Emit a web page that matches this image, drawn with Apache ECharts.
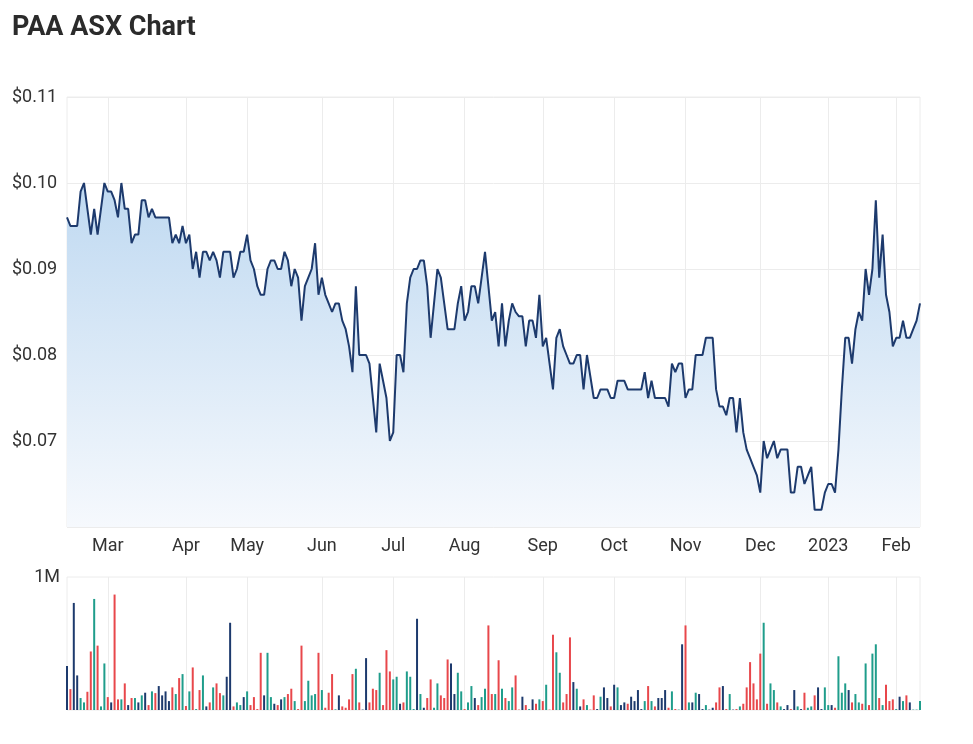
<!DOCTYPE html>
<html>
<head>
<meta charset="utf-8">
<title>PAA ASX Chart</title>
<script src="https://cdn.jsdelivr.net/npm/echarts@6/dist/echarts.min.js"></script>
<style>
  html, body { margin: 0; padding: 0; background: #fff; }
  #chart { width: 973px; height: 744px; }
</style>
</head>
<body>
<div id="chart"></div>
<script>
// tick labels for the month axis
const monthNames = ['Jan', 'Feb', 'Mar', 'Apr', 'May', 'Jun', 'Jul', 'Aug', 'Sep', 'Oct', 'Nov', 'Dec'];
// ASX closed days inside the window
const holidays = ['2022-04-15', '2022-04-18', '2022-04-25', '2022-06-13', '2022-09-22',
    '2022-12-26', '2022-12-27', '2023-01-02', '2023-01-26'];
const firstDay = '2022-02-11';
const lastDay = '2023-02-10';

// daily close, $
const closePrices = [
    0.096, 0.095, 0.095, 0.095, 0.099, 0.100, 0.097, 0.094, 0.097, 0.094,
    0.097, 0.100, 0.099, 0.099, 0.098, 0.096, 0.100, 0.097, 0.097, 0.093,
    0.094, 0.094, 0.098, 0.098, 0.096, 0.097, 0.096, 0.096, 0.096, 0.096,
    0.096, 0.093, 0.094, 0.093, 0.095, 0.093, 0.094, 0.090, 0.092, 0.089,
    0.092, 0.092, 0.091, 0.092, 0.091, 0.089, 0.092, 0.092, 0.092, 0.089,
    0.090, 0.092, 0.092, 0.094, 0.091, 0.090, 0.088, 0.087, 0.087, 0.090,
    0.091, 0.091, 0.090, 0.090, 0.092, 0.091, 0.088, 0.090, 0.089, 0.084,
    0.088, 0.089, 0.090, 0.093, 0.087, 0.089, 0.087, 0.086, 0.085, 0.086,
    0.086, 0.084, 0.083, 0.081, 0.078, 0.088, 0.080, 0.080, 0.080, 0.079,
    0.075, 0.071, 0.079, 0.077, 0.075, 0.070, 0.071, 0.080, 0.080, 0.078,
    0.086, 0.089, 0.090, 0.090, 0.091, 0.091, 0.088, 0.082, 0.086, 0.090,
    0.089, 0.086, 0.083, 0.083, 0.083, 0.086, 0.088, 0.084, 0.085, 0.088,
    0.088, 0.086, 0.089, 0.092, 0.088, 0.084, 0.085, 0.081, 0.086, 0.081,
    0.084, 0.086, 0.085, 0.0845, 0.0845, 0.081, 0.084, 0.084, 0.082, 0.087,
    0.081, 0.082, 0.079, 0.076, 0.082, 0.083, 0.081, 0.080, 0.079, 0.079,
    0.080, 0.080, 0.076, 0.080, 0.0775, 0.075, 0.075, 0.076, 0.076, 0.076,
    0.075, 0.075, 0.077, 0.077, 0.077, 0.076, 0.076, 0.076, 0.076, 0.076,
    0.078, 0.075, 0.077, 0.075, 0.075, 0.075, 0.075, 0.074, 0.079, 0.078,
    0.079, 0.079, 0.075, 0.076, 0.076, 0.080, 0.080, 0.080, 0.082, 0.082,
    0.082, 0.076, 0.074, 0.074, 0.073, 0.075, 0.075, 0.071, 0.075, 0.071,
    0.069, 0.068, 0.067, 0.066, 0.064, 0.070, 0.068, 0.069, 0.070, 0.068,
    0.069, 0.069, 0.069, 0.064, 0.064, 0.067, 0.067, 0.065, 0.066, 0.067,
    0.062, 0.062, 0.062, 0.064, 0.065, 0.065, 0.064, 0.069, 0.076, 0.082,
    0.082, 0.079, 0.083, 0.085, 0.084, 0.090, 0.087, 0.090, 0.098, 0.089,
    0.094, 0.087, 0.085, 0.081, 0.082, 0.082, 0.084, 0.082, 0.082, 0.083,
    0.084, 0.086
];

// daily volume, millions of shares
const volumesM = [
    0.33, 0.157, 0.805, 0.26, 0.09, 0.057, 0.137, 0.44, 0.835, 0.484,
    0.027, 0.35, 0.097, 0.057, 0.868, 0.08, 0.08, 0.2, 0.037, 0.09,
    0.09, 0.057, 0.11, 0.13, 0.037, 0.14, 0.127, 0.18, 0.11, 0.14,
    0.067, 0.17, 0.12, 0.24, 0.27, 0.03, 0.14, 0.32, 0.007, 0.15,
    0.26, 0.027, 0.057, 0.17, 0.2, 0.127, 0.11, 0.25, 0.656, 0.027,
    0.057, 0.037, 0.097, 0.14, 0.037, 0.097, 0.007, 0.43, 0.11, 0.43,
    0.097, 0.047, 0.037, 0.08, 0.097, 0.12, 0.16, 0.067, 0.007, 0.484,
    0.067, 0.22, 0.11, 0.12, 0.43, 0.15, 0.017, 0.13, 0.27, 0.005,
    0.11, 0.027, 0.017, 0.08, 0.27, 0.31, 0.057, 0.003, 0.39, 0.057,
    0.16, 0.15, 0.28, 0.037, 0.45, 0.29, 0.23, 0.25, 0.047, 0.057,
    0.29, 0.25, 0.007, 0.686, 0.12, 0.017, 0.09, 0.23, 0.017, 0.2,
    0.11, 0.09, 0.38, 0.35, 0.12, 0.28, 0.14, 0.007, 0.057, 0.18,
    0.09, 0.037, 0.097, 0.16, 0.636, 0.12, 0.12, 0.374, 0.16, 0.09,
    0.067, 0.17, 0.26, 0.003, 0.1, 0.037, 0.007, 0.08, 0.047, 0.08,
    0.067, 0.19, 0.003, 0.566, 0.434, 0.28, 0.057, 0.12, 0.546, 0.21,
    0.16, 0.027, 0.08, 0.037, 0.003, 0.11, 0.007, 0.1, 0.17, 0.09,
    0.027, 0.19, 0.17, 0.037, 0.057, 0.047, 0.1, 0.067, 0.15, 0.007,
    0.067, 0.18, 0.067, 0.027, 0.09, 0.09, 0.15, 0.017, 0.14, 0.007,
    0.003, 0.494, 0.636, 0.057, 0.057, 0.13, 0.12, 0.007, 0.037, 0.003,
    0.017, 0.057, 0.17, 0.18, 0.007, 0.12, 0.003, 0.007, 0.027, 0.047,
    0.17, 0.36, 0.2, 0.08, 0.424, 0.656, 0.047, 0.2, 0.15, 0.057,
    0.027, 0.007, 0.037, 0.007, 0.15, 0.027, 0.007, 0.13, 0.017, 0.027,
    0.11, 0.17, 0.007, 0.17, 0.037, 0.037, 0.017, 0.404, 0.13, 0.2,
    0.15, 0.057, 0.12, 0.057, 0.047, 0.35, 0.037, 0.424, 0.494, 0.09,
    0.037, 0.19, 0.067, 0.08, 0.007, 0.1, 0.067, 0.11, 0.057, 0.003,
    0.003, 0.067
];

const UP = '#1f9d8b';
const DOWN = '#e8474b';
const FLAT = '#1d3a6d';
const GRID_LINE = '#ececec';
const TEXT = '#333333';

function tradingDays(start, end, skip) {
    const out = [];
    const d = new Date(start + 'T00:00:00Z');
    const last = new Date(end + 'T00:00:00Z');
    while (d <= last) {
        const wd = d.getUTCDay();
        const s = d.toISOString().slice(0, 10);
        if (wd !== 0 && wd !== 6 && skip.indexOf(s) < 0) out.push(s);
        d.setUTCDate(d.getUTCDate() + 1);
    }
    return out;
}

const dates = tradingDays(firstDay, lastDay, holidays);

function isMonthStart(i) {
    return i > 0 && dates[i] && dates[i - 1] && dates[i].slice(5, 7) !== dates[i - 1].slice(5, 7);
}

function monthLabel(value) {
    const m = +value.slice(5, 7);
    return m === 1 ? value.slice(0, 4) : monthNames[m - 1];
}

const barData = volumesM.map((v, i) => {
    let c = FLAT;
    if (i > 0 && closePrices[i] > closePrices[i - 1]) c = UP;
    else if (i > 0 && closePrices[i] < closePrices[i - 1]) c = DOWN;
    return { value: v, itemStyle: { color: c } };
});

const chart = echarts.init(document.getElementById('chart'), null, { renderer: 'canvas' });

const fontFamily = 'Roboto, sans-serif';

chart.setOption({
    animation: false,
    textStyle: { fontFamily: fontFamily },
    title: {
        text: 'PAA ASX Chart',
        left: 12,
        top: 15,
        padding: 0,
        textStyle: { fontSize: 27, fontWeight: 'bold', color: '#2b2b2b', fontFamily: fontFamily }
    },
    grid: [
        { left: 67, right: 53, top: 97, height: 430, show: true, borderColor: GRID_LINE, borderWidth: 1 },
        { left: 67, right: 53, top: 577, height: 133, show: true, borderColor: GRID_LINE, borderWidth: 1 }
    ],
    xAxis: [
        {
            type: 'category',
            gridIndex: 0,
            data: dates,
            boundaryGap: false,
            axisLine: { show: false },
            axisTick: { show: false },
            axisLabel: {
                interval: (i) => isMonthStart(i),
                formatter: monthLabel,
                color: TEXT,
                fontSize: 18,
                margin: 10
            },
            splitLine: {
                show: true,
                interval: (i) => isMonthStart(i),
                lineStyle: { color: GRID_LINE, width: 1 }
            }
        },
        {
            type: 'category',
            gridIndex: 1,
            data: dates,
            boundaryGap: false,
            axisLine: { show: false },
            axisTick: { show: false },
            axisLabel: { show: false },
            splitLine: {
                show: true,
                interval: (i) => isMonthStart(i),
                lineStyle: { color: GRID_LINE, width: 1 }
            }
        }
    ],
    yAxis: [
        {
            type: 'value',
            gridIndex: 0,
            min: 0.06,
            max: 0.11,
            interval: 0.01,
            axisLine: { show: false },
            axisTick: { show: false },
            axisLabel: {
                showMinLabel: false,
                formatter: (v) => '$' + v.toFixed(2),
                align: 'left',
                margin: 55,
                color: TEXT,
                fontSize: 18,
                verticalAlign: 'middle',
                padding: [0, 0, 8, 0]
            },
            splitLine: { lineStyle: { color: GRID_LINE, width: 1 } }
        },
        {
            type: 'value',
            gridIndex: 1,
            min: 0,
            max: 1,
            interval: 1,
            axisLine: { show: false },
            axisTick: { show: false },
            axisLabel: {
                showMinLabel: false,
                formatter: (v) => (v === 1 ? '1M' : ''),
                margin: 7,
                color: TEXT,
                fontSize: 18,
                verticalAlign: 'middle',
                padding: [0, 0, 8, 0]
            },
            splitLine: { show: false }
        }
    ],
    series: [
        {
            name: 'Close',
            type: 'line',
            xAxisIndex: 0,
            yAxisIndex: 0,
            data: closePrices,
            symbol: 'none',
            lineStyle: { color: '#1d3a6d', width: 2 },
            areaStyle: {
                opacity: 1,
                color: new echarts.graphic.LinearGradient(0, 0, 0, 1, [
                    { offset: 0, color: '#bfd9f1' },
                    { offset: 1, color: '#f6f9fd' }
                ])
            }
        },
        {
            name: 'Volume',
            type: 'bar',
            xAxisIndex: 1,
            yAxisIndex: 1,
            data: barData,
            barWidth: 2
        }
    ]
});
</script>
</body>
</html>
